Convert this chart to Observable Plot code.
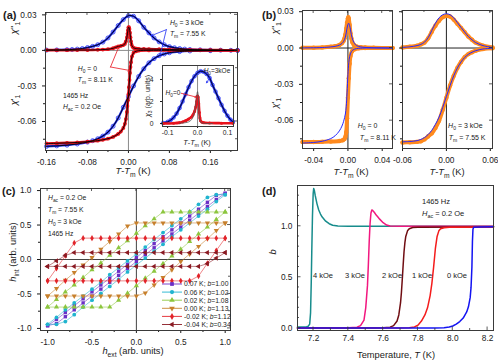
<!DOCTYPE html>
<html><head><meta charset="utf-8">
<script src="https://cdn.jsdelivr.net/npm/d3@7"></script>
<script src="https://cdn.jsdelivr.net/npm/@observablehq/plot@0.6"></script>
<style>
html,body{margin:0;padding:0;background:#fff;}
#root{position:relative;width:498px;height:364px;overflow:hidden;background:#fff;}
#root svg{position:absolute;overflow:visible;}
</style></head><body><div id="root"></div>
<script>
// ---------------- DATA ----------------
// (a) main: [T-Tm (K), chi]
const aChi2Red = [[-0.16,0.0002],[-0.14,0.0002],[-0.12,0.0002],[-0.10,0.0003],[-0.08,0.0003],[-0.06,0.0005],[-0.05,0.0007],[-0.04,0.001],[-0.03,0.0018],[-0.025,0.0026],[-0.02,0.0033],[-0.015,0.0038],[-0.01,0.0045],[-0.007,0.0055],[-0.005,0.0075],[-0.003,0.011],[-0.002,0.014],[-0.001,0.017],[0,0.0195],[0.001,0.0196],[0.002,0.018],[0.003,0.015],[0.004,0.011],[0.005,0.0075],[0.006,0.005],[0.008,0.003],[0.01,0.0022],[0.013,0.0017],[0.016,0.0015],[0.02,0.0013],[0.03,0.0012],[0.04,0.0011],[0.06,0.001],[0.08,0.0008],[0.10,0.0006],[0.12,0.0005],[0.14,0.0004],[0.16,0.0003],[0.18,0.0002],[0.20,0.0001],[0.213,0.0001]];
const aChi2Blue = [[-0.16,0.0003],[-0.14,0.0004],[-0.12,0.0006],[-0.11,0.0008],[-0.10,0.0011],[-0.09,0.0016],[-0.08,0.0024],[-0.07,0.0034],[-0.06,0.0048],[-0.05,0.007],[-0.04,0.0105],[-0.03,0.0155],[-0.02,0.021],[-0.01,0.026],[0,0.0293],[0.01,0.0288],[0.02,0.025],[0.03,0.0195],[0.04,0.0148],[0.05,0.0105],[0.06,0.0072],[0.07,0.0048],[0.08,0.0032],[0.09,0.0022],[0.10,0.0016],[0.11,0.0011],[0.12,0.0008],[0.14,0.0005],[0.16,0.0003],[0.18,0.0002],[0.20,0.0001],[0.213,0.0001]];
const aChi1Red = [[-0.16,-0.0786],[-0.14,-0.0784],[-0.12,-0.0781],[-0.10,-0.0777],[-0.08,-0.0771],[-0.06,-0.0762],[-0.05,-0.0755],[-0.04,-0.0745],[-0.03,-0.073],[-0.02,-0.0705],[-0.015,-0.0685],[-0.01,-0.0655],[-0.007,-0.062],[-0.005,-0.058],[-0.003,-0.052],[-0.002,-0.047],[-0.001,-0.042],[0,-0.037],[0.001,-0.031],[0.002,-0.025],[0.003,-0.019],[0.004,-0.014],[0.005,-0.010],[0.007,-0.005],[0.01,-0.002],[0.015,-0.0007],[0.02,-0.0002],[0.04,0],[0.08,0],[0.12,0],[0.16,0],[0.213,0]];
const aChi1Blue = [[-0.16,-0.081],[-0.14,-0.0806],[-0.12,-0.08],[-0.10,-0.079],[-0.08,-0.0774],[-0.07,-0.0762],[-0.06,-0.0746],[-0.05,-0.0723],[-0.04,-0.069],[-0.03,-0.064],[-0.02,-0.057],[-0.01,-0.048],[0,-0.039],[0.01,-0.030],[0.02,-0.022],[0.03,-0.0155],[0.04,-0.0105],[0.05,-0.007],[0.06,-0.0045],[0.07,-0.003],[0.08,-0.002],[0.10,-0.001],[0.12,-0.0005],[0.16,-0.0002],[0.213,0]];
// (a) inset: [T-Tm (K), chi3]
const insetBlue = [[-0.115,0.05],[-0.10,0.15],[-0.09,0.3],[-0.08,0.55],[-0.07,0.9],[-0.06,1.4],[-0.05,2.0],[-0.04,2.65],[-0.03,3.3],[-0.02,3.85],[-0.01,4.3],[0,4.6],[0.01,4.75],[0.02,4.7],[0.03,4.5],[0.04,4.15],[0.05,3.5],[0.06,2.9],[0.07,2.3],[0.08,1.7],[0.09,1.15],[0.10,0.7],[0.11,0.35],[0.118,0.15]];
const insetRed = [[-0.115,0],[-0.08,0.02],[-0.06,0.08],[-0.05,0.15],[-0.04,0.25],[-0.03,0.4],[-0.02,0.6],[-0.015,0.8],[-0.01,1.1],[-0.006,1.5],[-0.003,2.0],[0,2.5],[0.002,2.4],[0.004,1.8],[0.006,1.0],[0.008,0.5],[0.01,0.25],[0.015,0.12],[0.02,0.08],[0.04,0.05],[0.08,0.03],[0.118,0.02]];
const insetFitRed = [[-0.06,0.02],[-0.04,0.08],[-0.03,0.15],[-0.02,0.35],[-0.015,0.6],[-0.01,1.1],[-0.006,1.8],[-0.003,2.5],[0,2.9],[0.002,2.6],[0.004,1.6],[0.006,0.7],[0.008,0.3],[0.012,0.08],[0.02,0.02],[0.05,0]];
// (b) left H0 = 0
const bL2Orange = [[-0.053,0.0002],[-0.04,0.0003],[-0.03,0.0005],[-0.02,0.001],[-0.015,0.0015],[-0.01,0.0025],[-0.007,0.004],[-0.005,0.006],[-0.004,0.008],[-0.003,0.011],[-0.002,0.016],[-0.001,0.021],[0,0.0245],[0.0005,0.0255],[0.001,0.024],[0.002,0.019],[0.003,0.012],[0.004,0.008],[0.005,0.005],[0.007,0.0025],[0.01,0.0012],[0.015,0.0006],[0.02,0.0004],[0.03,0.0002],[0.052,0]];
const bL2Blue = [[-0.053,0.0001],[-0.03,0.0004],[-0.02,0.0009],[-0.015,0.0014],[-0.01,0.0024],[-0.007,0.0038],[-0.005,0.0055],[-0.003,0.009],[-0.002,0.0125],[-0.001,0.0165],[0,0.0195],[0.0008,0.0205],[0.002,0.0185],[0.003,0.015],[0.004,0.011],[0.006,0.006],[0.008,0.0035],[0.01,0.002],[0.015,0.0009],[0.02,0.0005],[0.03,0.0002],[0.052,0]];
const bL1Orange = [[-0.053,-0.0776],[-0.04,-0.0776],[-0.03,-0.0775],[-0.02,-0.0773],[-0.01,-0.0768],[-0.006,-0.0762],[-0.004,-0.0752],[-0.003,-0.0735],[-0.002,-0.0695],[-0.001,-0.058],[0,-0.041],[0.001,-0.025],[0.002,-0.013],[0.003,-0.0065],[0.005,-0.0025],[0.008,-0.001],[0.012,-0.0003],[0.02,0],[0.052,0]];
const bL1Blue = [[-0.053,-0.0785],[-0.04,-0.078],[-0.03,-0.077],[-0.02,-0.0748],[-0.015,-0.0725],[-0.01,-0.0685],[-0.007,-0.0645],[-0.005,-0.0605],[-0.003,-0.0545],[-0.002,-0.0485],[-0.001,-0.037],[0,-0.022],[0.001,-0.012],[0.002,-0.007],[0.004,-0.003],[0.006,-0.0015],[0.01,-0.0005],[0.02,0],[0.052,0]];
// (b) right H0 = 3 kOe
const bR2Orange = [[-0.06,0.0005],[-0.05,0.001],[-0.04,0.002],[-0.035,0.003],[-0.03,0.0045],[-0.025,0.008],[-0.02,0.0135],[-0.015,0.0185],[-0.01,0.0225],[-0.005,0.0255],[0,0.0265],[0.005,0.026],[0.01,0.0235],[0.015,0.02],[0.02,0.0165],[0.025,0.013],[0.03,0.0095],[0.035,0.0068],[0.04,0.0045],[0.05,0.002],[0.063,0.0005]];
const bR2Blue = [[-0.06,0.0005],[-0.05,0.001],[-0.04,0.002],[-0.035,0.003],[-0.03,0.0048],[-0.025,0.0085],[-0.02,0.0145],[-0.015,0.0205],[-0.01,0.025],[-0.005,0.0275],[0,0.0283],[0.005,0.0275],[0.01,0.025],[0.015,0.021],[0.02,0.017],[0.025,0.0132],[0.03,0.0095],[0.035,0.0068],[0.04,0.0045],[0.05,0.002],[0.063,0.0005]];
const bR1Orange = [[-0.06,-0.078],[-0.05,-0.0778],[-0.04,-0.0775],[-0.035,-0.077],[-0.03,-0.0755],[-0.025,-0.073],[-0.02,-0.0705],[-0.015,-0.066],[-0.01,-0.06],[-0.005,-0.051],[0,-0.041],[0.005,-0.031],[0.01,-0.023],[0.015,-0.0165],[0.02,-0.0115],[0.025,-0.0075],[0.03,-0.005],[0.035,-0.0035],[0.04,-0.0022],[0.05,-0.0008],[0.063,-0.0002]];
const bR1Blue = [[-0.06,-0.0775],[-0.05,-0.0772],[-0.04,-0.0765],[-0.035,-0.0755],[-0.03,-0.074],[-0.025,-0.0715],[-0.02,-0.068],[-0.015,-0.063],[-0.01,-0.057],[-0.005,-0.049],[0,-0.04],[0.005,-0.031],[0.01,-0.023],[0.015,-0.0165],[0.02,-0.0115],[0.025,-0.0078],[0.03,-0.0052],[0.035,-0.0035],[0.04,-0.0022],[0.05,-0.0008],[0.063,-0.0002]];
// (c) hysteresis loops: h_int on ascending (up) and descending (down) sweeps at each h_ext
const hExt = [-1.0,-0.9,-0.8,-0.7,-0.6,-0.5,-0.4,-0.3,-0.2,-0.1,0.0,0.1,0.2,0.3,0.4,0.5,0.6,0.7,0.8,0.9,1.0];
const cPurpleUp = [-0.96,-0.93,-0.83,-0.73,-0.63,-0.53,-0.43,-0.33,-0.23,-0.13,-0.03,0.07,0.17,0.27,0.37,0.47,0.57,0.67,0.77,0.87,0.96];
const cPurpleDown = [-0.96,-0.87,-0.77,-0.67,-0.57,-0.47,-0.37,-0.27,-0.17,-0.07,0.03,0.13,0.23,0.33,0.43,0.53,0.63,0.73,0.83,0.93,0.96];
const cCyanUp = [-0.94,-0.94,-0.90,-0.80,-0.69,-0.59,-0.49,-0.39,-0.29,-0.18,-0.08,0.02,0.12,0.22,0.33,0.43,0.53,0.63,0.73,0.84,0.94];
const cCyanDown = [-0.94,-0.84,-0.73,-0.63,-0.53,-0.43,-0.33,-0.22,-0.12,-0.02,0.08,0.18,0.29,0.39,0.49,0.59,0.69,0.80,0.90,0.94,0.94];
const cGreenUp = [-0.69,-0.69,-0.69,-0.69,-0.69,-0.69,-0.69,-0.69,-0.59,-0.49,-0.38,-0.27,-0.17,-0.06,0.05,0.15,0.26,0.37,0.47,0.58,0.69];
const cGreenDown = [-0.69,-0.58,-0.47,-0.37,-0.26,-0.15,-0.05,0.06,0.17,0.27,0.38,0.49,0.59,0.69,0.69,0.69,0.69,0.69,0.69,0.69,0.69];
const cOrangeUp = [-0.53,-0.53,-0.53,-0.53,-0.53,-0.53,-0.53,-0.53,-0.53,-0.53,-0.53,-0.485,-0.37,-0.26,-0.15,-0.03,0.08,0.19,0.30,0.42,0.53];
const cOrangeDown = [-0.53,-0.42,-0.30,-0.19,-0.08,0.03,0.15,0.26,0.37,0.485,0.53,0.53,0.53,0.53,0.53,0.53,0.53,0.53,0.53,0.53,0.53];
const cRedUp = [-0.31,-0.31,-0.31,-0.31,-0.31,-0.31,-0.31,-0.31,-0.31,-0.31,-0.31,-0.31,-0.31,-0.31,-0.31,-0.31,-0.31,-0.24,-0.055,0.13,0.31];
const cRedDown = [-0.31,-0.13,0.055,0.24,0.31,0.31,0.31,0.31,0.31,0.31,0.31,0.31,0.31,0.31,0.31,0.31,0.31,0.31,0.31,0.31,0.31];
const cMaroonUp = [-0.1,-0.1,-0.1,-0.1,-0.1,-0.1,-0.1,-0.1,-0.1,-0.1,-0.1,-0.1,-0.1,-0.1,-0.1,-0.1,-0.1,-0.1,-0.06,0.02,0.1];
const cMaroonDown = [-0.1,-0.02,0.06,0.1,0.1,0.1,0.1,0.1,0.1,0.1,0.1,0.1,0.1,0.1,0.1,0.1,0.1,0.1,0.1,0.1,0.1];
const cLabels = ["0.07 K; $b$=1.00","0.06 K; $b$=1.02","0.02 K; $b$=1.08","0.00 K; $b$=1.13","-0.02 K; $b$=1.12","-0.04 K; $b$=0.34"];
// (d) b vs T
const d4k = [[7.108,0.012],[7.14,0.012],[7.16,0.015],[7.17,0.02],[7.178,0.04],[7.183,0.15],[7.187,0.45],[7.19,0.75],[7.194,1.1],[7.198,1.32],[7.201,1.37],[7.205,1.35],[7.21,1.30],[7.22,1.22],[7.23,1.16],[7.24,1.12],[7.25,1.09],[7.27,1.05],[7.29,1.025],[7.31,1.01],[7.34,1.002],[7.4,1.0],[8.234,1.0]];
const d3k = [[7.108,0.002],[7.3,0.002],[7.4,0.004],[7.45,0.01],[7.47,0.025],[7.49,0.08],[7.5,0.2],[7.51,0.42],[7.515,0.62],[7.52,0.85],[7.525,1.03],[7.53,1.13],[7.535,1.16],[7.54,1.155],[7.55,1.135],[7.56,1.11],[7.57,1.09],[7.58,1.07],[7.60,1.035],[7.62,1.012],[7.64,1.003],[7.7,1.0],[8.234,1.0]];
const d2k = [[7.108,0.001],[7.5,0.002],[7.6,0.004],[7.64,0.01],[7.66,0.025],[7.68,0.07],[7.69,0.13],[7.70,0.25],[7.705,0.35],[7.71,0.48],[7.715,0.62],[7.72,0.75],[7.725,0.84],[7.73,0.9],[7.74,0.955],[7.75,0.975],[7.77,0.988],[7.8,0.99],[8.234,0.992]];
const d1k = [[7.108,0.001],[7.7,0.002],[7.75,0.005],[7.78,0.012],[7.80,0.03],[7.82,0.07],[7.84,0.13],[7.855,0.2],[7.87,0.32],[7.88,0.44],[7.89,0.6],[7.90,0.78],[7.91,0.9],[7.92,0.955],[7.93,0.975],[7.95,0.985],[7.98,0.99],[8.234,0.992]];
const d0k = [[7.108,0.001],[7.9,0.002],[7.95,0.005],[7.98,0.012],[8.0,0.022],[8.02,0.04],[8.04,0.065],[8.06,0.1],[8.08,0.16],[8.09,0.21],[8.10,0.3],[8.105,0.4],[8.11,0.6],[8.113,0.85],[8.116,0.97],[8.12,0.99],[8.15,0.993],[8.234,0.995]];
const dFields = ["4 kOe","3 kOe","2 kOe","1 kOe","0 kOe"];
// tick values
const aXTicks = [-0.16,-0.08,0,0.08,0.16], aXMinor = [-0.12,-0.04,0.04,0.12,0.2];
const aYTicks = [0.03,0,-0.03,-0.06], aYMinor = [0.015,-0.015,-0.045,-0.075];
const inXTicks = [-0.1,0,0.1], inYTicks = [0,2,4];
const bLXTicks = [-0.04,0,0.04], bLXMinor = [-0.02,0.02];
const bRXTicks = [-0.06,0,0.06], bRXMinor = [-0.03,0.03];
const cTicks = [-1,-0.5,0,0.5,1], cMinor = [-0.75,-0.25,0.25,0.75];
const dXTicks = [7.2,7.4,7.6,7.8,8.0,8.2], dXMinor = [7.3,7.5,7.7,7.9,8.1];
const dYTicks = [0,0.5,1.0], dYMinor = [0.1,0.2,0.3,0.4,0.6,0.7,0.8,0.9,1.1,1.2,1.3];

// ---------------- HELPERS ----------------
const FONT = '"Liberation Sans", Arial, Helvetica, sans-serif';
const root = document.getElementById("root");
const baseStyle = {fontFamily: FONT, fontSize: "8.3px", background: "transparent", overflow: "visible", color: "#1a1a1a"};
const xy = {x: d => d[0], y: d => d[1]};
const f2 = d => d.toFixed(2), f1 = d => d.toFixed(1);
const blank = () => "";

function mount(svg, left, top) {
  svg.style.position = "absolute"; svg.style.left = left + "px"; svg.style.top = top + "px";
  root.appendChild(svg); return svg;
}
function rich(svg, x, y, str, o = {}) {
  const size = o.size || 7;
  const t = d3.select(svg).append("text").attr("x", x).attr("y", y)
    .attr("font-size", size).attr("font-family", FONT).attr("fill", o.fill || "#1a1a1a")
    .attr("text-anchor", o.anchor || "start");
  if (o.weight) t.attr("font-weight", o.weight);
  if (o.rotate) t.attr("transform", `rotate(${o.rotate},${x},${y})`);
  let italic = false, shift = 0, buf = "", i = 0;
  const add = (txt, kind) => {
    if (!txt) return;
    const ts = t.append("tspan").text(txt);
    if (italic) ts.attr("font-style", "italic");
    const target = kind === "sub" ? 0.28 * size : kind === "sup" ? -0.38 * size : 0;
    if (target !== shift) { ts.attr("dy", target - shift); shift = target; }
    if (kind) ts.attr("font-size", size * 0.72);
  };
  while (i < str.length) {
    const c = str[i];
    if (c === "$") { add(buf); buf = ""; italic = !italic; i++; }
    else if ((c === "_" || c === "^") && str[i + 1] === "{") {
      add(buf); buf = ""; const j = str.indexOf("}", i);
      add(str.slice(i + 2, j), c === "_" ? "sub" : "sup"); i = j + 1;
    } else { buf += c; i++; }
  }
  add(buf);
  return t;
}
function at(plot, x, y) { return [plot.scale("x").apply(x), plot.scale("y").apply(y)]; }
function note(plot, x, y, str, o) { const [X, Y] = at(plot, x, y); return rich(plot, X, Y, str, o); }
function extraTicks(plot, {xs = [], ys = [], sides = ["top", "right"]}) {
  const sx = plot.scale("x"), sy = plot.scale("y");
  const [L, R] = sx.range, [B, T] = sy.range;
  const g = d3.select(plot).append("g").attr("stroke", "#333").attr("stroke-width", 0.8);
  for (const [v, len] of xs) {
    const X = sx.apply(v);
    if (sides.includes("top")) g.append("line").attr("x1", X).attr("x2", X).attr("y1", T).attr("y2", T + len);
    if (sides.includes("bottom")) g.append("line").attr("x1", X).attr("x2", X).attr("y1", B).attr("y2", B - len);
  }
  for (const [v, len] of ys) {
    const Y = sy.apply(v);
    if (sides.includes("right")) g.append("line").attr("y1", Y).attr("y2", Y).attr("x1", R).attr("x2", R - len);
    if (sides.includes("left")) g.append("line").attr("y1", Y).attr("y2", Y).attr("x1", L).attr("x2", L + len);
  }
}
const withLen = (arr, len) => arr.map(v => [v, len]);
const FRAME = "#3a3a3a";

// ---------------- PANEL (a) ----------------
const BLUE = "#1f2ef2", RED = "#e8121c";
const pa = Plot.plot({
  width: 245, height: 180, marginLeft: 45, marginRight: 8, marginTop: 12, marginBottom: 30,
  x: {domain: [-0.162, 0.213]}, y: {domain: [-0.0845, 0.032]},
  style: baseStyle,
  marks: [
    Plot.ruleY([0], {stroke: "#8a8a8a"}),
    Plot.ruleX([0], {stroke: "#8a8a8a"}),
    Plot.line(aChi1Blue, {...xy, stroke: BLUE, strokeWidth: 2.2, curve: "catmull-rom"}),
    Plot.dot(aChi1Blue, {...xy, r: 2, stroke: BLUE, strokeWidth: 0.8, fill: "none"}),
    Plot.line(aChi2Blue, {...xy, stroke: BLUE, strokeWidth: 2.2, curve: "catmull-rom"}),
    Plot.dot(aChi2Blue, {...xy, r: 2, stroke: BLUE, strokeWidth: 0.8, fill: "none"}),
    Plot.line(aChi1Red, {...xy, stroke: RED, strokeWidth: 2.6, curve: "catmull-rom"}),
    Plot.dot(aChi1Red, {...xy, r: 1.9, fill: RED}),
    Plot.line(aChi2Red, {...xy, stroke: RED, strokeWidth: 2.6, curve: "catmull-rom"}),
    Plot.dot(aChi2Red, {...xy, r: 1.9, fill: RED}),
    Plot.line(aChi1Blue, {...xy, stroke: "#000", strokeWidth: 0.9, curve: "catmull-rom"}),
    Plot.line(aChi2Blue, {...xy, stroke: "#000", strokeWidth: 0.9, curve: "catmull-rom"}),
    Plot.line(aChi1Red, {...xy, stroke: "#000", strokeWidth: 0.9, curve: "catmull-rom"}),
    Plot.line(aChi2Red, {...xy, stroke: "#000", strokeWidth: 0.9, curve: "catmull-rom"}),
    Plot.arrow([{x1: 0.074, y1: 0.0175, x2: 0.045, y2: 0.0125}, {x1: 0.074, y1: 0.0175, x2: 0.062, y2: -0.004}],
      {x1: "x1", y1: "y1", x2: "x2", y2: "y2", stroke: BLUE, strokeWidth: 0.8, headLength: 4}),
    Plot.arrow([{x1: -0.035, y1: -0.014, x2: -0.019, y2: 0.0028}, {x1: -0.035, y1: -0.014, x2: 0.003, y2: -0.017}],
      {x1: "x1", y1: "y1", x2: "x2", y2: "y2", stroke: RED, strokeWidth: 0.8, headLength: 4}),
    Plot.axisX(aXTicks, {tickSize: 3, tickFormat: f2, label: null}),
    Plot.axisX(aXMinor, {tickSize: 2, tickFormat: blank, label: null}),
    Plot.axisY(aYTicks, {tickSize: 3, tickFormat: f2, label: null}),
    Plot.axisY(aYMinor, {tickSize: 2, tickFormat: blank, label: null}),
    Plot.frame({stroke: FRAME})
  ]
});
mount(pa, 0, 0);
extraTicks(pa, {xs: [...withLen(aXTicks, 3), ...withLen(aXMinor, 2)], ys: [...withLen(aYTicks, 3), ...withLen(aYMinor, 2)]});
note(pa, 0.082, 0.021, "$H$_{0} = 3 kOe", {size: 6.8});
note(pa, 0.082, 0.0115, "$T$_{m} = 7.55 K", {size: 6.8});
note(pa, -0.098, -0.0175, "$H$_{0} = 0", {size: 6.8});
note(pa, -0.098, -0.027, "$T$_{m} = 8.11 K", {size: 6.8});
note(pa, -0.127, -0.0405, "1465 Hz", {size: 6.8});
note(pa, -0.127, -0.05, "$H$_{ac} = 0.2 Oe", {size: 6.8});
rich(pa, 133, 174, "$T$-$T$_{m} (K)", {size: 9.3, anchor: "middle"});
rich(pa, 17, 28, "$χ$''_{1}", {size: 9.3, anchor: "middle", rotate: -90});
rich(pa, 17, 100, "$χ$'_{1}", {size: 9.3, anchor: "middle", rotate: -90});
rich(pa, 3, 19, "(a)", {size: 11, weight: "bold"});

// inset
const pin = Plot.plot({
  width: 100, height: 85, marginLeft: 22, marginRight: 7, marginTop: 5, marginBottom: 19,
  x: {domain: [-0.117, 0.12]}, y: {domain: [-0.27, 5.27]},
  style: {...baseStyle, fontSize: "6.8px"},
  marks: [
    Plot.frame({fill: "white", stroke: "none"}),
    Plot.ruleX([0], {stroke: "#8a8a8a"}),
    Plot.line(insetBlue, {...xy, stroke: BLUE, strokeWidth: 2.4, curve: "catmull-rom"}),
    Plot.dot(insetBlue, {...xy, r: 1.8, stroke: BLUE, strokeWidth: 0.8, fill: "none"}),
    Plot.line(insetBlue, {...xy, stroke: "#000", strokeWidth: 0.8, curve: "catmull-rom"}),
    Plot.line(insetRed, {...xy, stroke: RED, strokeWidth: 2.6, curve: "catmull-rom"}),
    Plot.dot(insetRed, {...xy, r: 1.5, fill: RED}),
    Plot.line(insetFitRed, {...xy, stroke: "#555", strokeWidth: 0.8, curve: "catmull-rom"}),
    Plot.arrow([{x1: 0.042, y1: 4.2, x2: 0.03, y2: 3.7}], {x1: "x1", y1: "y1", x2: "x2", y2: "y2", stroke: BLUE, strokeWidth: 0.8, headLength: 3}),
    Plot.arrow([{x1: -0.055, y1: 2.75, x2: -0.004, y2: 2.4}], {x1: "x1", y1: "y1", x2: "x2", y2: "y2", stroke: RED, strokeWidth: 0.8, headLength: 3}),
    Plot.axisX(inXTicks, {tickSize: 2, tickPadding: 1.5, tickFormat: f1, label: null}),
    Plot.axisY(inYTicks, {tickSize: 2, tickFormat: d => String(d), label: null}),
    Plot.frame({stroke: FRAME})
  ]
});
mount(pin, 140, 60);
note(pin, 0.022, 4.55, "$H$_{0}=3kOe", {size: 6.5});
note(pin, -0.105, 2.55, "$H$_{0}=0", {size: 6.5});
rich(pin, 57, 85, "$T$-$T$_{m} (K)", {size: 7.3, anchor: "middle"});
rich(pin, 10, 36, "$χ$_{3} (arb. units)", {size: 7, anchor: "middle", rotate: -90});

// ---------------- PANEL (b) ----------------
const ORANGE = "#ff8a1e", BBLUE = "#2626ff";
function bPanel(domain, c2o, c2b, c1o, c1b, xt, xm, showY) {
  return Plot.plot({
    width: showY ? 150 : 113, height: 180,
    marginLeft: showY ? 57 : 17, marginRight: showY ? 3 : 6, marginTop: 10, marginBottom: 32,
    x: {domain}, y: {domain: [-0.083, 0.031]},
    style: baseStyle,
    marks: [
      Plot.ruleY([0], {stroke: "#222"}),
      Plot.ruleX([0], {stroke: "#222"}),
      Plot.line(c1o, {...xy, stroke: ORANGE, strokeWidth: 4, curve: "catmull-rom"}),
      Plot.dot(c1o, {...xy, r: 2.2, fill: ORANGE}),
      Plot.line(c2o, {...xy, stroke: ORANGE, strokeWidth: 4, curve: "catmull-rom"}),
      Plot.dot(c2o, {...xy, r: 2.2, fill: ORANGE}),
      Plot.line(c1b, {...xy, stroke: BBLUE, strokeWidth: 1, curve: "catmull-rom"}),
      Plot.line(c2b, {...xy, stroke: BBLUE, strokeWidth: 1, curve: "catmull-rom"}),
      Plot.axisX(xt, {tickSize: 3, tickFormat: f2, label: null}),
      Plot.axisX(xm, {tickSize: 2, tickFormat: blank, label: null}),
      Plot.axisY(aYTicks, {tickSize: 3, tickFormat: showY ? f2 : blank, label: null}),
      Plot.axisY(aYMinor, {tickSize: 2, tickFormat: blank, label: null}),
      Plot.frame({stroke: FRAME})
    ]
  });
}
const pbL = mount(bPanel([-0.053, 0.052], bL2Orange, bL2Blue, bL1Orange, bL1Blue, bLXTicks, bLXMinor, true), 245, 0);
const pbR = mount(bPanel([-0.06, 0.063], bR2Orange, bR2Blue, bR1Orange, bR1Blue, bRXTicks, bRXMinor, false), 385, 0);
extraTicks(pbL, {xs: [...withLen(bLXTicks, 3), ...withLen(bLXMinor, 2)], ys: [...withLen(aYTicks, 3)]});
extraTicks(pbR, {xs: [...withLen(bRXTicks, 3), ...withLen(bRXMinor, 2)], ys: [...withLen(aYTicks, 3)]});
note(pbL, 0.012, -0.0665, "$H$_{0} = 0", {size: 7});
note(pbL, 0.0145, -0.0765, "$T$_{m} = 8.11 K", {size: 7});
note(pbR, 0.003, -0.0665, "$H$_{0} = 3 kOe", {size: 7});
note(pbR, 0.004, -0.0765, "$T$_{m} = 7.55 K", {size: 7});
rich(pbL, 106, 175, "$T$-$T$_{m} (K)", {size: 9.3, anchor: "middle"});
rich(pbR, 62, 175, "$T$-$T$_{m} (K)", {size: 9.3, anchor: "middle"});
rich(pbL, 33, 28, "$χ$''_{1}", {size: 9, anchor: "middle", rotate: -90});
rich(pbL, 33, 103, "$χ$'_{1}", {size: 9, anchor: "middle", rotate: -90});
rich(pbL, 17, 19, "(b)", {size: 11, weight: "bold"});

// ---------------- PANEL (c) ----------------
const loops = [
  {color: "#6b2fc6", symbol: "square", rotate: 0, up: cPurpleUp, down: cPurpleDown},
  {color: "#20b4cf", symbol: "circle", rotate: 0, up: cCyanUp, down: cCyanDown},
  {color: "#8cc63e", symbol: "triangle", rotate: 0, up: cGreenUp, down: cGreenDown},
  {color: "#c7802c", symbol: "triangle", rotate: 180, up: cOrangeUp, down: cOrangeDown},
  {color: "#e2242a", symbol: "diamond", rotate: 0, up: cRedUp, down: cRedDown},
  {color: "#8a1a22", symbol: "triangle", rotate: -90, up: cMaroonUp, down: cMaroonDown}
];
const loopMarks = loops.flatMap(L => {
  const path = hExt.map((h, i) => [h, L.up[i]]).concat(hExt.map((h, i) => [h, L.down[i]]).reverse());
  return [
    Plot.line(path, {...xy, stroke: L.color, strokeWidth: 0.8, strokeOpacity: 0.7}),
    Plot.dot(path, {...xy, symbol: L.symbol, rotate: L.rotate, r: 1.9, fill: L.color})
  ];
});
const pc = Plot.plot({
  width: 245, height: 184, marginLeft: 40, marginRight: 15, marginTop: 8, marginBottom: 34,
  x: {domain: [-1.08, 1.06]}, y: {domain: [-1.03, 1.03]},
  symbol: {type: "identity"},
  style: baseStyle,
  marks: [
    Plot.ruleY([0], {stroke: "#444"}),
    Plot.ruleX([0], {stroke: "#444"}),
    ...loopMarks,
    Plot.axisX(cTicks, {tickSize: 3, tickFormat: f1, label: null}),
    Plot.axisX(cMinor, {tickSize: 2, tickFormat: blank, label: null}),
    Plot.axisY(cTicks, {tickSize: 3, tickFormat: f1, label: null}),
    Plot.axisY(cMinor, {tickSize: 2, tickFormat: blank, label: null}),
    Plot.frame({stroke: FRAME})
  ]
});
mount(pc, 0, 180);
extraTicks(pc, {xs: [...withLen(cTicks, 3), ...withLen(cMinor, 2)], ys: [...withLen(cTicks, 3), ...withLen(cMinor, 2)]});
note(pc, -0.99, 0.86, "$H$_{ac} = 0.2 Oe", {size: 6.8});
note(pc, -0.99, 0.68, "$T$_{m} = 7.55 K", {size: 6.8});
note(pc, -0.99, 0.51, "$H$_{0} = 3 kOe", {size: 6.8});
note(pc, -0.99, 0.33, "1465 Hz", {size: 6.8});
// legend
{
  const g = d3.select(pc).append("g");
  const symTypes = {square: d3.symbolSquare, circle: d3.symbolCircle, triangle: d3.symbolTriangle, diamond: d3.symbolDiamond};
  loops.forEach((L, i) => {
    const y = 104 + i * 8.1;
    g.append("line").attr("x1", 162).attr("x2", 182).attr("y1", y).attr("y2", y).attr("stroke", L.color).attr("stroke-width", 0.9);
    g.append("path").attr("d", d3.symbol(symTypes[L.symbol], 14)()).attr("fill", L.color)
      .attr("transform", `translate(172,${y}) rotate(${L.rotate})`);
    rich(pc, 184, y + 2.4, cLabels[i], {size: 6.8});
  });
}
rich(pc, 133, 174, "$h$_{ext} (arb. units)", {size: 9.3, anchor: "middle"});
rich(pc, 16, 72, "$h$_{int} (arb. units)", {size: 9.3, anchor: "middle", rotate: -90});
rich(pc, 2, 15, "(c)", {size: 11, weight: "bold"});

// ---------------- PANEL (d) ----------------
const dSeries = [
  {data: d4k, color: "#178c8c"},
  {data: d3k, color: "#f2177f"},
  {data: d2k, color: "#700d12"},
  {data: d1k, color: "#f41c1c"},
  {data: d0k, color: "#1414f2"}
];
const pd = Plot.plot({
  width: 253, height: 184, marginLeft: 52, marginRight: 5, marginTop: 5, marginBottom: 34,
  x: {domain: [7.108, 8.234]}, y: {domain: [-0.0225, 1.4]},
  style: baseStyle,
  marks: [
    ...dSeries.map(s => Plot.line(s.data, {...xy, stroke: s.color, strokeWidth: 1.5})),
    Plot.axisX(dXTicks, {tickSize: 0, tickPadding: 5, tickFormat: f1, label: null}),
    Plot.axisY(dYTicks, {tickSize: 0, tickPadding: 5, tickFormat: f1, label: null}),
    Plot.frame({stroke: FRAME})
  ]
});
mount(pd, 245, 180);
extraTicks(pd, {xs: [...withLen(dXTicks, 3.5), ...withLen(dXMinor, 2)], ys: [...withLen(dYTicks, 3.5), ...withLen(dYMinor, 2)], sides: ["bottom", "left"]});
note(pd, 7.826, 1.213, "1465 Hz", {size: 7.5});
note(pd, 7.826, 1.095, "$H$_{ac} = 0.2 Oe", {size: 7.5});
[7.2, 7.384, 7.597, 7.769, 7.97].forEach((t, i) => note(pd, t, 0.49, dFields[i], {size: 7.5}));
rich(pd, 151, 178, "Temperature, $T$ (K)", {size: 9.3, anchor: "middle"});
rich(pd, 31, 72, "$b$", {size: 9.3, anchor: "middle", rotate: -90});
rich(pd, 17, 15, "(d)", {size: 11, weight: "bold"});
</script></body></html>
